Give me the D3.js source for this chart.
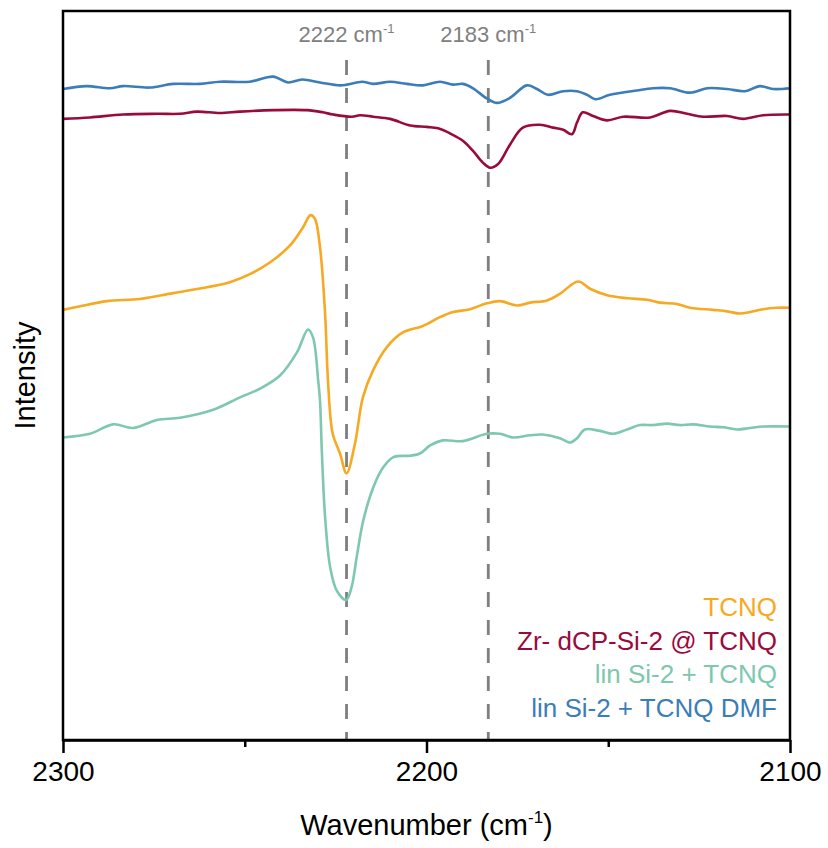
<!DOCTYPE html>
<html>
<head>
<meta charset="utf-8">
<script src="https://cdn.jsdelivr.net/npm/d3@7"></script>
<style>
  html, body { margin: 0; padding: 0; background: #fff; }
  svg { display: block; font-family: "Liberation Sans", Arial, sans-serif; }
</style>
</head>
<body>
<svg id="chart" width="828" height="848"></svg>
<script>
// ---- Data (wavenumber cm^-1, intensity a.u., offset stacked) ----
const xTicks = [2300, 2200, 2100];
const xMinorTicks = [2250, 2150];
const markerLines = [2222, 2183];
const markerLabels = ["2222", "2183"];

const seriesNames = ["TCNQ", "Zr- dCP-Si-2 @ TCNQ", "lin Si-2 + TCNQ", "lin Si-2 + TCNQ DMF"];
const seriesColors = ["#F6A922", "#990B3D", "#7DC8AE", "#3B7DB9"];

const tcnq = [[2300,59.0],[2295.3,59.5],[2287.9,60.2],[2278.8,60.5],[2269.7,61.3],[2260.4,62.1],[2254.1,62.8],[2248.6,63.9],[2243.1,65.5],[2237.6,67.8],[2234.0,70.3],[2231.9,72.0],[2230.7,71.5],[2229.3,67.6],[2227.9,58.5],[2227.1,49.3],[2225.8,42.0],[2223.8,39.3],[2222.0,36.6],[2219.7,40.6],[2217.5,47.0],[2214.7,50.7],[2210.9,53.9],[2206.5,55.9],[2201.0,56.8],[2196.3,58.0],[2192.7,58.7],[2188.0,59.1],[2183.4,59.9],[2179.8,60.2],[2175.1,59.6],[2171.5,60.0],[2166.8,60.3],[2163.3,61.2],[2158.3,62.9],[2155.0,61.9],[2150.3,61.0],[2144.8,60.6],[2139.3,60.4],[2135.8,60.0],[2131.1,59.8],[2127.5,59.3],[2121.2,59.0],[2117.3,58.8],[2113.8,58.5],[2111.0,58.7],[2107.4,59.1],[2103.6,59.3],[2100,59.3]];

const zrTcnq = [[2300,85.2],[2292.6,85.4],[2283.5,85.8],[2274.1,85.9],[2267.8,85.9],[2263.1,86.2],[2256.8,86.0],[2251.3,86.2],[2242.2,86.4],[2232.9,86.4],[2228.5,86.1],[2225.7,85.8],[2220.5,85.5],[2218.3,85.7],[2214.7,85.5],[2210.0,85.2],[2204.5,84.3],[2199.9,84.1],[2196.8,83.9],[2193.5,83.2],[2190.0,82.2],[2187.2,80.8],[2184.5,79.2],[2182.5,78.5],[2180.3,79.0],[2177.0,81.7],[2173.5,84.0],[2168.8,84.4],[2165.2,84.0],[2162.4,83.7],[2160.0,83.1],[2158.6,84.7],[2157.0,86.1],[2154.2,85.6],[2150.3,85.0],[2145.9,85.5],[2138.5,85.4],[2133.0,86.3],[2128.3,85.9],[2123.9,85.5],[2117.3,85.6],[2112.9,85.2],[2107.4,85.7],[2100,85.8]];

const linTcnq = [[2300,41.5],[2292.6,42.0],[2286.2,43.3],[2280.7,42.8],[2274.1,43.9],[2267.8,44.2],[2258.7,45.3],[2251.3,47.0],[2245.8,48.2],[2240.3,50.0],[2235.6,53.2],[2232.6,56.3],[2231.2,55.2],[2229.8,49.3],[2229.3,46.6],[2228.8,39.7],[2227.9,30.6],[2226.5,23.7],[2224.7,20.5],[2222.1,19.2],[2220.6,21.0],[2219.2,25.1],[2217.4,30.1],[2214.6,34.7],[2211.9,37.4],[2209.1,38.8],[2204.5,39.0],[2201.8,39.3],[2199.0,40.4],[2195.5,41.1],[2190.0,41.0],[2183.4,42.0],[2179.8,42.0],[2176.2,41.5],[2171.5,41.8],[2168.0,41.9],[2163.3,41.4],[2160.5,40.8],[2158.6,41.4],[2156.4,42.6],[2152.3,42.4],[2148.7,42.0],[2144.8,42.6],[2141.3,43.2],[2137.7,43.2],[2133.8,43.4],[2130.3,43.2],[2126.7,43.3],[2122.0,43.0],[2118.4,42.9],[2114.6,42.6],[2111.0,42.8],[2107.4,43.0],[2100,43.0]];

const linTcnqDmf = [[2300,89.3],[2293.5,89.7],[2287.1,89.4],[2283.5,89.7],[2276.1,89.5],[2269.7,90.0],[2262.3,90.0],[2256.8,90.3],[2248.6,90.3],[2242.2,91.0],[2238.1,90.2],[2234.2,90.6],[2229.3,90.2],[2223.8,89.8],[2221.9,89.9],[2217.7,90.3],[2214.7,90.0],[2210.0,90.3],[2205.4,90.0],[2201.0,89.8],[2196.3,90.3],[2192.7,89.9],[2190.0,90.0],[2187.2,89.4],[2183.4,88.0],[2180.6,87.4],[2177.0,88.1],[2172.4,89.8],[2169.6,89.3],[2166.6,88.5],[2162.4,89.0],[2158.6,89.0],[2155.8,88.5],[2153.6,87.9],[2149.5,88.5],[2142.1,89.1],[2137.7,89.4],[2133.0,89.4],[2127.5,88.8],[2122.8,89.4],[2117.3,89.3],[2112.4,89.0],[2108.3,89.7],[2104.7,89.3],[2100,89.4]];

const seriesData = [tcnq, zrTcnq, linTcnq, linTcnqDmf];

// ---- Layout ----
const svg = d3.select("#chart");
const mLeft = 63, mRight = 790, mTop = 11, mBottom = 740;

const x = d3.scaleLinear().domain([2300, 2100]).range([mLeft, mRight]);
const y = d3.scaleLinear().domain([0, 100]).range([mBottom, mTop]);

// dashed marker lines
svg.selectAll("line.marker").data(markerLines).enter().append("line")
  .attr("class", "marker")
  .attr("x1", d => x(d)).attr("x2", d => x(d))
  .attr("y1", 60).attr("y2", mBottom)
  .attr("stroke", "#7f7f7f").attr("stroke-width", 2.8)
  .attr("stroke-dasharray", "15,13");

// marker labels
const ml = svg.selectAll("text.mlabel").data(markerLines).enter().append("text")
  .attr("class", "mlabel")
  .attr("x", d => x(d)).attr("y", 42)
  .attr("text-anchor", "middle")
  .attr("fill", "#808080").attr("font-size", 22);
ml.append("tspan").text((d, i) => markerLabels[i] + " cm");
ml.append("tspan").attr("font-size", 13).attr("dy", -9).text("-1");

// curves
const line = d3.line().x(d => x(d[0])).y(d => y(d[1])).curve(d3.curveCatmullRom.alpha(0.5));
svg.selectAll("path.series").data(seriesData).enter().append("path")
  .attr("class", "series")
  .attr("d", d => line([...d].sort((a, b) => b[0] - a[0])))
  .attr("fill", "none")
  .attr("stroke", (d, i) => seriesColors[i])
  .attr("stroke-width", 2.6)
  .attr("stroke-linejoin", "round");

// frame
svg.append("rect")
  .attr("x", mLeft).attr("y", mTop)
  .attr("width", mRight - mLeft).attr("height", mBottom - mTop)
  .attr("fill", "none").attr("stroke", "#000").attr("stroke-width", 2.5);

// x axis
const xAxis = d3.axisBottom(x).tickValues(xTicks).tickSize(13).tickSizeOuter(0).tickPadding(8)
  .tickFormat(d3.format("d"));
const gx = svg.append("g").attr("transform", `translate(0,${mBottom})`).call(xAxis);
gx.select(".domain").attr("stroke", "#000").attr("stroke-width", 2.5);
gx.selectAll(".tick line").attr("stroke", "#000").attr("stroke-width", 2.5);
gx.selectAll(".tick text").attr("font-size", 28).attr("fill", "#000")
  .attr("font-family", "'Liberation Sans', Arial, sans-serif").attr("dy", "0.71em");

const gxm = svg.append("g").attr("transform", `translate(0,${mBottom})`)
  .call(d3.axisBottom(x).tickValues(xMinorTicks).tickSize(7).tickFormat(""));
gxm.select(".domain").remove();
gxm.selectAll(".tick line").attr("stroke", "#000").attr("stroke-width", 2.5);

// axis titles
const xt = svg.append("text")
  .attr("x", (mLeft + mRight) / 2).attr("y", 835)
  .attr("text-anchor", "middle").attr("font-size", 29).attr("fill", "#000");
xt.append("tspan").text("Wavenumber (cm");
xt.append("tspan").attr("font-size", 17).attr("dy", -12).text("-1");
xt.append("tspan").attr("dy", 12).text(")");

svg.append("text")
  .attr("transform", `translate(35,${(mTop + mBottom) / 2}) rotate(-90)`)
  .attr("text-anchor", "middle").attr("font-size", 29).attr("fill", "#000")
  .text("Intensity");

// legend
svg.selectAll("text.legend").data(seriesNames).enter().append("text")
  .attr("class", "legend")
  .attr("x", 777).attr("y", (d, i) => 616 + i * 33.5)
  .attr("text-anchor", "end").attr("font-size", 26)
  .attr("fill", (d, i) => seriesColors[i])
  .text(d => d);
</script>
</body>
</html>
